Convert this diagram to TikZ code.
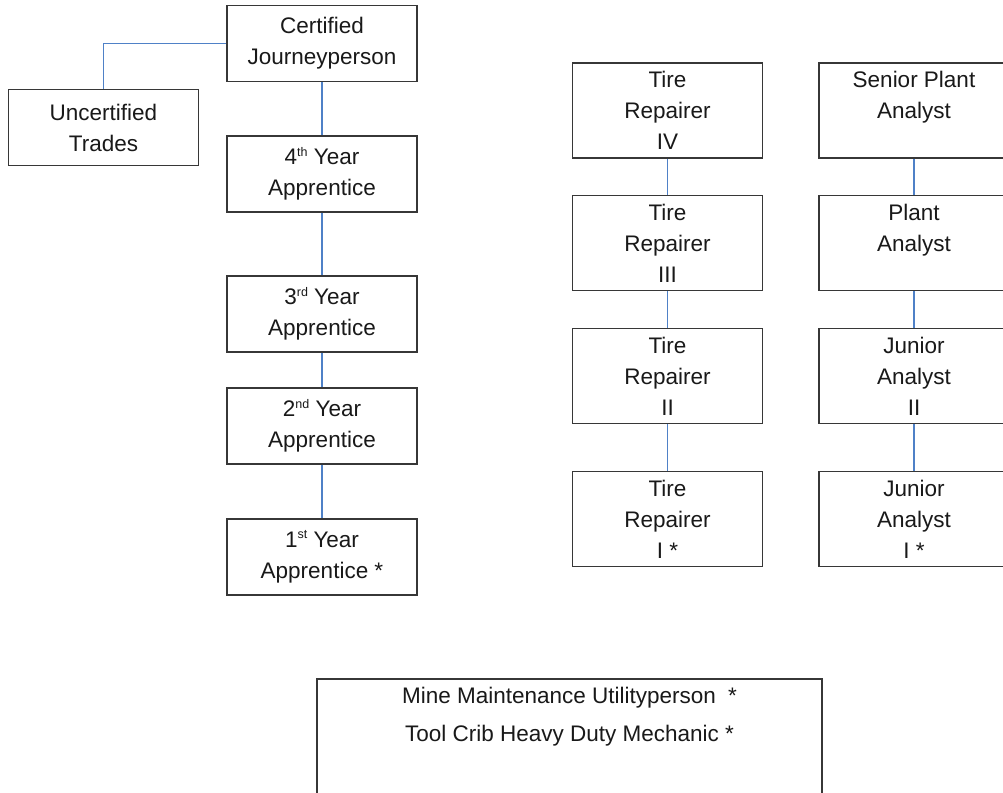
\documentclass[tikz,border=0pt]{standalone}
\usepackage{fontspec}
\setmainfont{Liberation Sans}
\usetikzlibrary{calc}
\definecolor{linkblue}{RGB}{79,129,199}
\definecolor{boxline}{RGB}{55,55,55}
\newcommand\ordsup[1]{\raisebox{8.5pt}{\fontsize{12.5}{12.5}\selectfont #1}}
\begin{document}
\begin{tikzpicture}[x=1pt,y=-1pt,
  jobbox/.style={draw=boxline, line width=1.7pt, fill=white, inner sep=0pt,
    minimum width=190, align=center, text=black!90,
    font=\fontsize{22.5}{31}\selectfont},
  short/.style={jobbox, minimum height=76},
  tall/.style={jobbox, minimum height=95},
  txt/.style={inner sep=0pt, text=black!90, font=\fontsize{22.5}{27}\selectfont},
  link/.style={draw=linkblue, line width=1.5pt}]
\path[use as bounding box] (0,0) rectangle (1003,792);
\clip (0,0) rectangle (1003,792);

% trades ladder
\node[short] (cj) at (322,43.5) {Certified\\Journeyperson};
\node[short] (ut) at (103.5,127.5) {Uncertified\\Trades};
\node[short] (y4) at (322,174) {4\ordsup{th} Year\\Apprentice};
\node[short] (y3) at (322,314) {3\ordsup{rd} Year\\Apprentice};
\node[short] (y2) at (322,426) {2\ordsup{nd} Year\\Apprentice};
\node[short] (y1) at (322,557) {1\ordsup{st} Year\\Apprentice *};

% tire repairer ladder
\node[tall] (t4) at (667.5,110.5) {Tire\\Repairer\\IV};
\node[tall] (t3) at (667.5,243) {Tire\\Repairer\\III};
\node[tall] (t2) at (667.5,376) {Tire\\Repairer\\II};
\node[tall] (t1) at (667.5,519) {Tire\\Repairer\\I *};

% analyst ladder
\node[tall] (sp) at (914,110.5) {Senior Plant\\Analyst\\\mbox{}};
\node[tall] (pa) at (914,243) {Plant\\Analyst\\\mbox{}};
\node[tall] (j2) at (914,376) {Junior\\Analyst\\II};
\node[tall] (j1) at (914,519) {Junior\\Analyst\\I *};

% stand-alone positions
\node[jobbox, minimum width=505, minimum height=122] (mm) at (569.5,740) {};
\node[txt] (mm1) at ($(mm.north)+(0,20)$) {Mine Maintenance Utilityperson\hspace{12pt}*};
\node[txt] (mm2) at ($(mm.north)+(0,58)$) {Tool Crib Heavy Duty Mechanic *};

% connectors
\draw[link] (ut.north) |- (cj.west);
\draw[link] (cj.south) -- (y4.north);
\draw[link] (y4.south) -- (y3.north);
\draw[link] (y3.south) -- (y2.north);
\draw[link] (y2.south) -- (y1.north);
\draw[link] (t4.south) -- (t3.north);
\draw[link] (t3.south) -- (t2.north);
\draw[link] (t2.south) -- (t1.north);
\draw[link] (sp.south) -- (pa.north);
\draw[link] (pa.south) -- (j2.north);
\draw[link] (j2.south) -- (j1.north);
\end{tikzpicture}
\end{document}
